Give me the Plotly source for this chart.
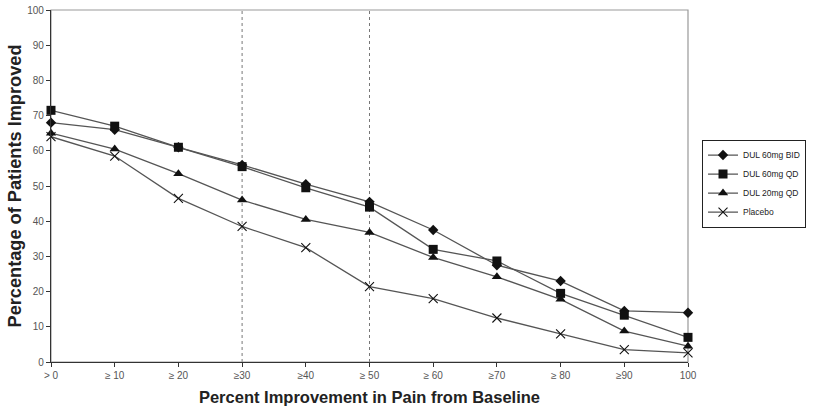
import plotly.graph_objects as go

categories = ["> 0", "≥ 10", "≥ 20", "≥30", "≥40", "≥ 50", "≥ 60", "≥70", "≥ 80", "≥90", "100"]
dul60_bid = [68, 66, 61, 56, 50.5, 45.5, 37.5, 27.5, 23, 14.5, 14]
dul60_qd = [71.5, 67, 61, 55.5, 49.5, 44, 32, 28.7, 19.5, 13.3, 7]
dul20_qd = [65, 60.5, 53.5, 46, 40.5, 36.8, 29.7, 24.2, 17.8, 8.8, 4.5]
placebo = [64, 58.5, 46.5, 38.5, 32.5, 21.4, 18, 12.5, 8, 3.5, 2.6]
series_names = ["DUL 60mg BID", "DUL 60mg QD", "DUL 20mg QD", "Placebo"]
ref_lines = ["≥30", "≥ 50"]

fig = go.Figure()
styles = [
    dict(symbol="diamond", size=8),
    dict(symbol="square", size=9),
    dict(symbol="triangle-up", size=9),
    dict(symbol="x-thin-open", size=9, line=dict(color="#666", width=1.1)),
]
for name, vals, st in zip(series_names, [dul60_bid, dul60_qd, dul20_qd, placebo], styles):
    fig.add_trace(go.Scatter(
        x=categories, y=vals, name=name, mode="lines+markers",
        line=dict(color="#555555", width=1.3),
        marker=dict(color="#111111", **st),
        cliponaxis=False,
    ))

for c in ref_lines:
    idx = categories.index(c)
    fig.add_shape(type="line", xref="x", yref="paper", x0=idx, x1=idx, y0=0, y1=1,
                  line=dict(color="#777", width=1, dash="dot"), layer="below")

# gray frame top/right
fig.add_shape(type="rect", xref="paper", yref="paper", x0=0, x1=1, y0=0, y1=1,
              line=dict(color="#999", width=1.2), layer="below")

fig.update_layout(
    width=816, height=410,
    margin=dict(l=51, r=124, t=10, b=48),
    plot_bgcolor="white", paper_bgcolor="white",
    font=dict(family="Liberation Sans, Arial", color="#333"),
    showlegend=True,
    legend=dict(x=1.022, y=0.507, xanchor="left", yanchor="middle",
                bordercolor="#222", borderwidth=1, font=dict(size=8.5, color="#222"),
                tracegroupgap=0, itemwidth=30, bgcolor="white"),
    xaxis=dict(type="category", range=[0, 10], showgrid=False, zeroline=False,
               automargin=False,
               showline=True, linecolor="#333", linewidth=1.2,
               ticks="outside", ticklen=4, tickcolor="#333",
               tickfont=dict(size=10, color="#555"),
               title=dict(text="<b>Percent Improvement in Pain from Baseline</b>",
                          font=dict(size=16.5, color="#222"), standoff=11)),
    yaxis=dict(range=[0, 100], dtick=10, showgrid=False, zeroline=False,
               automargin=False,
               showline=True, linecolor="#333", linewidth=1.2,
               ticks="outside", ticklen=4, tickcolor="#333",
               tickfont=dict(size=10, color="#555"),
               title=dict(text="<b>Percentage of Patients Improved</b>",
                          font=dict(size=18.2, color="#222"), standoff=0)),
)

fig.write_html("out.html", config={"displayModeBar": False},
               post_script="document.body.style.margin='0px';")
